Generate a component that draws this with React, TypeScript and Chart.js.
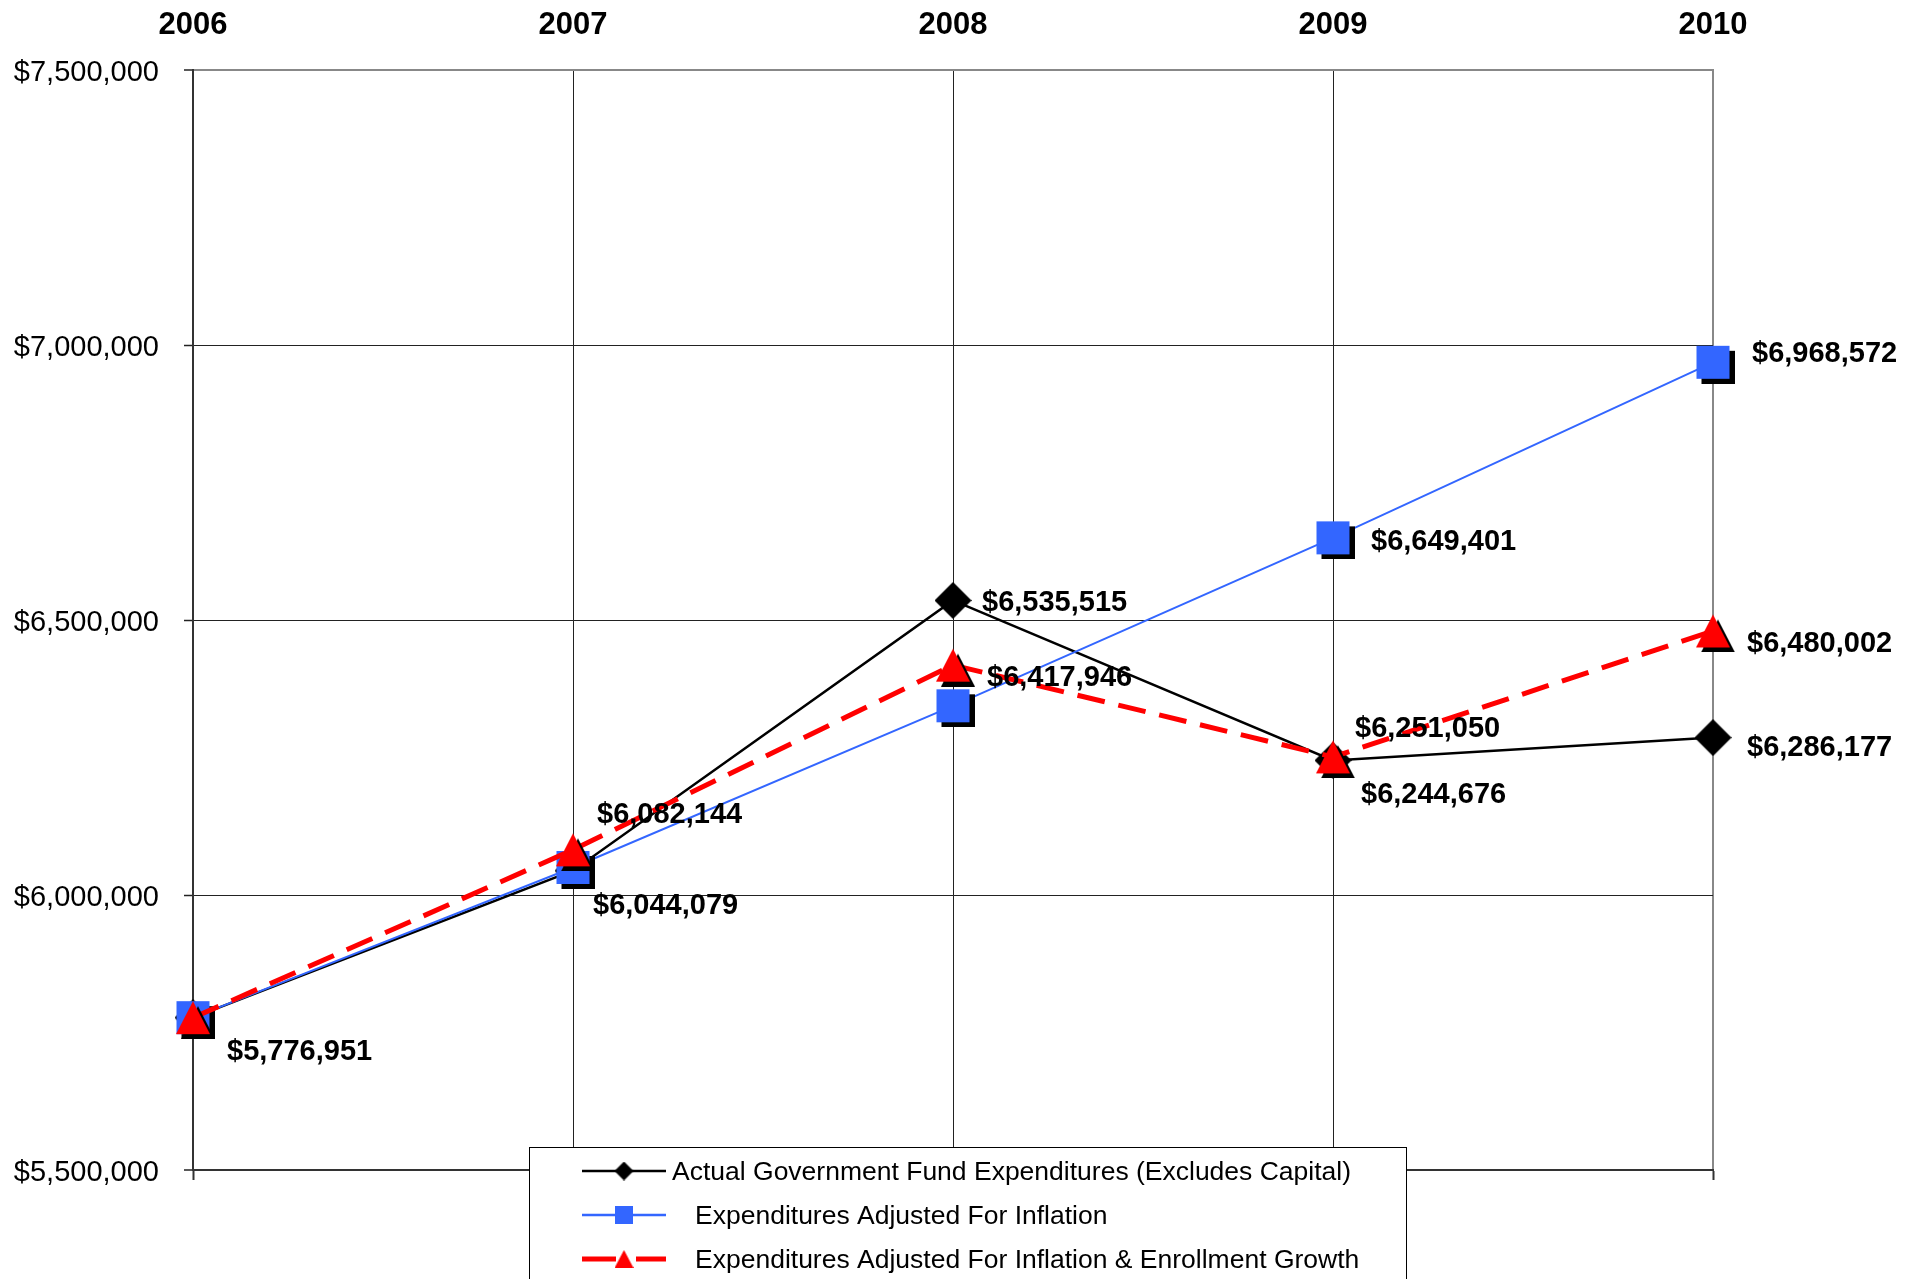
import React, { useEffect, useRef } from 'react';
import { Chart, registerables } from 'chart.js';

Chart.register(...registerables);

// ---------- data ----------
const categories = ['2006', '2007', '2008', '2009', '2010'];
const seriesLabels = [
  'Actual Government Fund Expenditures (Excludes Capital)',
  'Expenditures Adjusted For Inflation',
  'Expenditures Adjusted For Inflation & Enrollment Growth',
];
const actualValues = [5776951, 6044079, 6535515, 6244676, 6286177];
const inflationValues = [5776951, 6050000, 6344000, 6649401, 6968572];
const enrollmentValues = [5776951, 6082144, 6417946, 6251050, 6480002];
const yMin = 5500000;
const yMax = 7500000;
const yStep = 500000;

// which points carry a value label (series index, point index)
const labelledPoints = [
  [0, 0], [0, 1], [0, 2], [0, 3], [0, 4],
  [1, 3], [1, 4],
  [2, 1], [2, 2], [2, 3], [2, 4],
];
// label offsets (layout only), same order as labelledPoints
const labelOffsets = [
  [34, 34], [20, 35], [29, 3], [28, 35], [34, 10],
  [38, 4], [39, -8],
  [24, -35], [34, 13], [22, -28], [34, 13],
];

const FONT = '"Liberation Sans", Arial, Helvetica, sans-serif';

const fmt = (v: number) => '$' + Math.round(v).toLocaleString('en-US');

function markerCanvas(shape: string, color: string, w: number, h: number, off: number) {
  const c = document.createElement('canvas');
  c.width = Math.ceil(w + 2 * off);
  c.height = Math.ceil(h + 2 * off);
  const g = c.getContext('2d') as CanvasRenderingContext2D;
  const draw = (x0: number, y0: number, fill: string) => {
    g.fillStyle = fill;
    g.beginPath();
    if (shape === 'square') {
      g.rect(x0, y0, w, h);
    } else if (shape === 'triangle') {
      g.moveTo(x0 + w / 2, y0);
      g.lineTo(x0 + w, y0 + h);
      g.lineTo(x0, y0 + h);
      g.closePath();
    } else {
      g.moveTo(x0 + w / 2, y0);
      g.lineTo(x0 + w, y0 + h / 2);
      g.lineTo(x0 + w / 2, y0 + h);
      g.lineTo(x0, y0 + h / 2);
      g.closePath();
    }
    g.fill();
  };
  if (off > 0) draw(2 * off, 2 * off, '#000000');
  draw(off, off, color);
  return c;
}

const valueLabelPlugin = {
  id: 'valueLabels',
  afterDatasetsDraw(chart: any) {
    const ctx = chart.ctx;
    ctx.save();
    ctx.font = `bold 29px ${FONT}`;
    ctx.fillStyle = '#000000';
    ctx.textAlign = 'left';
    ctx.textBaseline = 'middle';
    labelledPoints.forEach(([s, i], k) => {
      const el = chart.getDatasetMeta(s).data[i];
      const v = chart.data.datasets[s].data[i];
      const [dx, dy] = labelOffsets[k];
      ctx.fillText(fmt(v), el.x + dx, el.y + dy);
    });
    ctx.restore();
  },
};

const boxLegendPlugin = {
  id: 'boxLegend',
  afterDraw(chart: any) {
    const ctx = chart.ctx;
    const bx = 529.5, by = 1147.5, bw = 877, bh = 200;
    ctx.save();
    ctx.fillStyle = '#ffffff';
    ctx.fillRect(bx, by, bw, bh);
    ctx.strokeStyle = '#000000';
    ctx.lineWidth = 1;
    ctx.strokeRect(bx, by, bw, bh);
    ctx.font = `26.5px ${FONT}`;
    ctx.textAlign = 'left';
    ctx.textBaseline = 'middle';
    chart.data.datasets.forEach((ds: any, i: number) => {
      const y = 1171 + i * 44;
      const x0 = 582, x1 = 666;
      ctx.save();
      ctx.strokeStyle = ds.borderColor;
      ctx.lineWidth = ds.legendLineWidth;
      ctx.setLineDash(ds.legendDash || []);
      ctx.beginPath();
      ctx.moveTo(x0, y);
      ctx.lineTo(x1, y);
      ctx.stroke();
      ctx.restore();
      const m = ds.legendMarker;
      ctx.drawImage(m, 624 - m.width / 2, y - m.height / 2);
      ctx.fillStyle = '#000000';
      ctx.fillText(ds.label, ds.legendTextX, y + 2);
    });
    ctx.restore();
  },
};

export default function App() {
  const ref = useRef<HTMLCanvasElement>(null);

  useEffect(() => {
    document.body.style.margin = '0';
    const canvas = ref.current;
    if (!canvas) return;

    const diamond = markerCanvas('diamond', '#000000', 37, 37, 0);
    const square = markerCanvas('square', '#3366FF', 33, 33, 5);
    const triangle = markerCanvas('triangle', '#FF0000', 34, 33, 5);
    const lDiamond = markerCanvas('diamond', '#000000', 19, 19, 0);
    const lSquare = markerCanvas('square', '#3366FF', 18, 18, 0);
    const lTriangle = markerCanvas('triangle', '#FF0000', 19, 18, 0);

    const chart = new Chart(canvas, {
      type: 'line',
      data: {
        labels: categories,
        datasets: [
          {
            label: seriesLabels[0],
            data: actualValues,
            borderColor: '#000000',
            backgroundColor: '#000000',
            borderWidth: 2.5,
            pointStyle: diamond,
            pointRadius: 18,
            tension: 0,
            fill: false,
            clip: false,
            order: 2,
            xAxisID: 'x',
            yAxisID: 'y',
            legendMarker: lDiamond,
            legendLineWidth: 2.5,
            legendTextX: 672,
          } as any,
          {
            label: seriesLabels[1],
            data: inflationValues,
            borderColor: '#3366FF',
            backgroundColor: '#3366FF',
            borderWidth: 2,
            pointStyle: square,
            pointRadius: 17,
            tension: 0,
            fill: false,
            clip: false,
            order: 1,
            xAxisID: 'x',
            yAxisID: 'y',
            legendMarker: lSquare,
            legendLineWidth: 2.5,
            legendTextX: 695,
          } as any,
          {
            label: seriesLabels[2],
            data: enrollmentValues,
            borderColor: '#FF0000',
            backgroundColor: '#FF0000',
            borderWidth: 5,
            borderDash: [28, 14],
            borderCapStyle: 'butt',
            pointStyle: triangle,
            pointRadius: 17,
            tension: 0,
            fill: false,
            clip: false,
            order: 0,
            xAxisID: 'x',
            yAxisID: 'y',
            legendMarker: lTriangle,
            legendLineWidth: 5,
            legendDash: [34, 20],
            legendTextX: 695,
          } as any,
        ],
      },
      options: {
        animation: false,
        responsive: true,
        maintainAspectRatio: false,
        layout: { padding: { left: 0, top: 0, right: 208, bottom: 0 } },
        plugins: {
          legend: { display: false },
          tooltip: { enabled: false },
          title: { display: false },
        },
        events: [],
        scales: {
          x: {
            type: 'category',
            position: 'top',
            offset: false,
            ticks: {
              font: { size: 31, weight: 'bold', family: FONT },
              color: '#000000',
              padding: 26,
              maxRotation: 0,
            },
            grid: {
              drawTicks: false,
              color: (c: any) => (c.index === categories.length - 1 ? '#888888' : '#222222'),
              lineWidth: (c: any) => (c.index === categories.length - 1 ? 2 : 1),
            },
            border: { color: '#888888', width: 2 },
            afterFit: (s: any) => {
              s.height = 70;
            },
          },
          x2: {
            type: 'category',
            position: 'bottom',
            offset: false,
            ticks: { display: false },
            grid: {
              drawOnChartArea: false,
              drawTicks: true,
              tickLength: 10,
              tickColor: '#333333',
              tickWidth: 2,
            },
            border: { color: '#333333', width: 2 },
            afterFit: (s: any) => {
              s.height = 109;
            },
          },
          y: {
            type: 'linear',
            position: 'left',
            min: yMin,
            max: yMax,
            ticks: {
              stepSize: yStep,
              callback: (v: any) => fmt(Number(v)),
              font: { size: 29, family: FONT },
              color: '#000000',
              padding: 25,
              labelOffset: 2.5,
            },
            grid: {
              color: (c: any) =>
                c.tick && c.tick.value === yMax ? '#888888' : c.tick && c.tick.value === yMin ? '#333333' : '#222222',
              lineWidth: (c: any) => (c.tick && (c.tick.value === yMax || c.tick.value === yMin) ? 2 : 1),
              tickColor: '#222222',
              tickLength: 9,
              tickWidth: 1.5,
            },
            border: { color: '#333333', width: 2 },
            afterFit: (s: any) => {
              s.width = 193;
            },
          },
        },
      } as any,
      plugins: [valueLabelPlugin, boxLegendPlugin],
    });

    return () => {
      chart.destroy();
    };
  }, []);

  return (
    <div style={{ position: 'fixed', left: 0, top: 0, width: 1921, height: 1279, background: '#ffffff' }}>
      <canvas ref={ref} />
    </div>
  );
}
